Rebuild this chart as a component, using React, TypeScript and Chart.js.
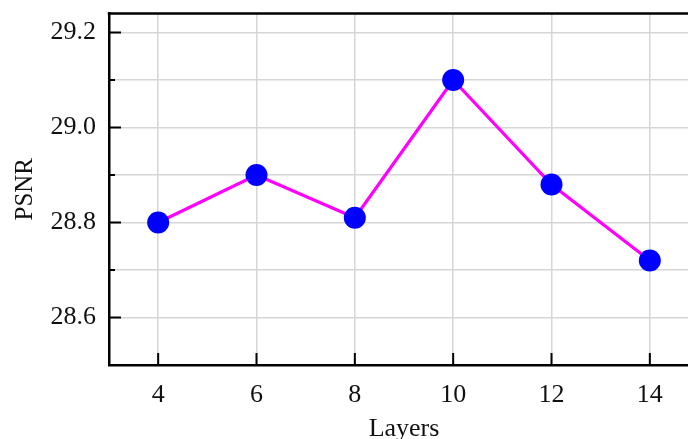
import React, { useEffect, useRef } from "react";
import { Chart, registerables } from "chart.js";

Chart.register(...registerables);

const layers = [4, 6, 8, 10, 12, 14];
const psnr = [28.8, 28.9, 28.81, 29.1, 28.88, 28.72];
const xTickValues = [4, 6, 8, 10, 12, 14];
const yMajorTicks = [28.6, 28.8, 29.0, 29.2];
const yMinorTicks = [28.7, 28.9, 29.1];
const yGridValues = [28.6, 28.7, 28.8, 28.9, 29.0, 29.1, 29.2];

const FONT = "'Liberation Serif', 'Times New Roman', serif";

const innerTicks = {
  id: "innerTicks",
  afterDraw(chart: any) {
    const { ctx, chartArea, scales } = chart;
    const { left, right, top, bottom } = chartArea;
    const x = scales.x;
    const y = scales.y;
    ctx.save();
    ctx.strokeStyle = "#000";
    ctx.lineWidth = 2.5;
    ctx.beginPath();
    ctx.moveTo(left - 1.25, top);
    ctx.lineTo(right, top);
    ctx.lineTo(right, bottom);
    ctx.stroke();
    ctx.lineWidth = 2;
    ctx.beginPath();
    xTickValues.forEach((v) => {
      const px = x.getPixelForValue(v);
      ctx.moveTo(px, bottom);
      ctx.lineTo(px, bottom - 12);
    });
    yMajorTicks.forEach((v) => {
      const py = y.getPixelForValue(v);
      ctx.moveTo(left, py);
      ctx.lineTo(left + 12, py);
    });
    yMinorTicks.forEach((v) => {
      const py = y.getPixelForValue(v);
      ctx.moveTo(left, py);
      ctx.lineTo(left + 6, py);
    });
    ctx.stroke();
    ctx.restore();
  },
};

export default function App() {
  const ref = useRef<HTMLCanvasElement>(null);
  useEffect(() => {
    if (!ref.current) return;
    const chart = new Chart(ref.current, {
      type: "line",
      data: {
        datasets: [
          {
            data: layers.map((l, i) => ({ x: l, y: psnr[i] })),
            borderColor: "#ff00ff",
            borderWidth: 3.2,
            pointBackgroundColor: "#0000ff",
            pointBorderColor: "#0000ff",
            pointRadius: 11,
            pointBorderWidth: 0,
            tension: 0,
          },
        ],
      },
      options: {
        responsive: false,
        animation: false,
        clip: false as any,
        layout: { padding: { top: 13.5, right: 13, left: 0, bottom: 0 } },
        plugins: { legend: { display: false }, tooltip: { enabled: false } },
        scales: {
          x: {
            type: "linear",
            min: 3,
            max: 15,
            afterBuildTicks: (scale: any) => {
              scale.ticks = xTickValues.map((v) => ({ value: v }));
            },
            afterFit: (scale: any) => {
              scale.height = 85;
              scale.paddingLeft = 0;
              scale.paddingRight = 0;
            },
            grid: { color: "#d6d6d6", lineWidth: 1.5, drawTicks: false },
            border: { display: true, color: "#000", width: 2.5 },
            ticks: {
              padding: 15,
              color: "#111",
              font: { family: FONT, size: 26 },
              maxRotation: 0,
              callback: (v: any) => String(v),
            },
            title: {
              display: true,
              text: "Layers",
              color: "#111",
              font: { family: FONT, size: 26 },
              padding: { top: 0, bottom: 5 },
            },
          },
          y: {
            type: "linear",
            min: 28.5,
            max: 29.24,
            afterBuildTicks: (scale: any) => {
              scale.ticks = yGridValues.map((v) => ({ value: v }));
            },
            afterFit: (scale: any) => {
              scale.width = 109;
              scale.paddingTop = 0;
              scale.paddingBottom = 0;
            },
            grid: { color: "#d6d6d6", lineWidth: 1.5, drawTicks: false },
            border: { display: true, color: "#000", width: 2.5 },
            ticks: {
              padding: 13,
              color: "#111",
              font: { family: FONT, size: 26 },
              callback: (v: any) => {
                const r = Math.round(Number(v) * 10) / 10;
                return yMajorTicks.some((m) => Math.abs(m - r) < 1e-6) ? r.toFixed(1) : "";
              },
            },
            title: {
              display: true,
              text: "PSNR",
              color: "#111",
              font: { family: FONT, size: 25 },
              padding: { top: 10, bottom: 0 },
            },
          },
        },
      },
      plugins: [innerTicks],
    });
    return () => chart.destroy();
  }, []);

  return (
    <div
      style={{
        position: "fixed",
        left: 0,
        top: 0,
        width: 688,
        height: 439,
        overflow: "hidden",
        background: "#fff",
      }}
    >
      <canvas ref={ref} width={712} height={450} style={{ display: "block" }} />
    </div>
  );
}
